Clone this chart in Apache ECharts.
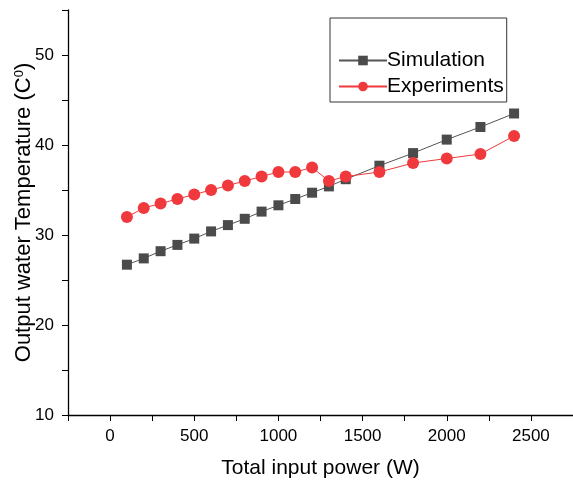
<!DOCTYPE html>
<html><head><meta charset="utf-8">
<script src="https://cdn.jsdelivr.net/npm/echarts@6/dist/echarts.min.js"></script>
<style>html,body{margin:0;padding:0;background:#fff}#c{width:573px;height:480px}</style>
</head><body><div id="c"></div>
<script>
const powers = [100,200,300,400,500,600,700,800,900,1000,1100,1200,1300,1400,1600,1800,2000,2200,2400];
const simulation = [26.7,27.4,28.2,28.9,29.6,30.4,31.1,31.8,32.6,33.3,34.0,34.7,35.4,36.2,37.7,39.1,40.6,42.0,43.5];
const experiments = [32.0,33.0,33.5,34.0,34.5,35.0,35.5,36.0,36.5,37.0,37.0,37.5,36.0,36.5,37.0,38.0,38.5,39.0,41.0];
const seriesNames = ['Simulation','Experiments'];

const font = 'Liberation Sans, Arial, sans-serif';
const chart = echarts.init(document.getElementById('c'), null, {renderer:'canvas'});
chart.setOption({
  animation:false,
  backgroundColor:'#fff',
  grid:{left:68, right:0, top:10, bottom:65, containLabel:false, outerBoundsMode:'none'},
  legend:{
    orient:'vertical', left:330, top:18,
    padding:[32,3,5,8], itemGap:5,
    borderColor:'#333', borderWidth:1,
    itemWidth:48, itemHeight:12,
    textStyle:{fontFamily:font, fontSize:21, color:'#000', padding:[0,0,0,-5]},
    data:seriesNames
  },
  xAxis:{
    type:'value', min:-250, max:2750, interval:250,
    name:'Total input power (W)', nameLocation:'middle', nameGap:43,
    nameTextStyle:{fontFamily:font, fontSize:21, color:'#000'},
    axisLine:{onZero:false, lineStyle:{color:'#000', width:1.3}},
    axisTick:{inside:false, length:6, lineStyle:{color:'#000'}},
    axisLabel:{fontFamily:font, fontSize:17, color:'#000', margin:13,
      formatter:v=> (v>=0 && v%500===0) ? String(v) : ''},
    splitLine:{show:false}
  },
  yAxis:{
    type:'value', min:10, max:55, interval:5,
    name:'Output water Temperature (C{sup|0})', nameLocation:'middle', nameGap:33,
    nameMoveOverlap:false,
    nameTextStyle:{fontFamily:font, fontSize:22, color:'#000',
      rich:{sup:{fontFamily:font, fontSize:13, color:'#000', verticalAlign:'top', padding:[0,0,9,0]}}},
    axisLine:{show:true, onZero:false, lineStyle:{color:'#000', width:1.3}},
    axisTick:{show:true, inside:false, length:6, lineStyle:{color:'#000'}},
    axisLabel:{fontFamily:font, fontSize:17, color:'#000', margin:14,
      formatter:v=> (v%10===0 && v<=50) ? String(v) : ''},
    splitLine:{show:false}
  },
  series:[
    {name:seriesNames[0], type:'line', data:powers.map((p,i)=>[p,simulation[i]]),
     symbol:'rect', symbolSize:10, itemStyle:{color:'#4b4b4b'},
     lineStyle:{color:'#555', width:1}},
    {name:seriesNames[1], type:'line', data:powers.map((p,i)=>[p,experiments[i]]),
     symbol:'circle', symbolSize:12, itemStyle:{color:'#f0393d'},
     lineStyle:{color:'#f0393d', width:1}}
  ]
});
</script></body></html>
